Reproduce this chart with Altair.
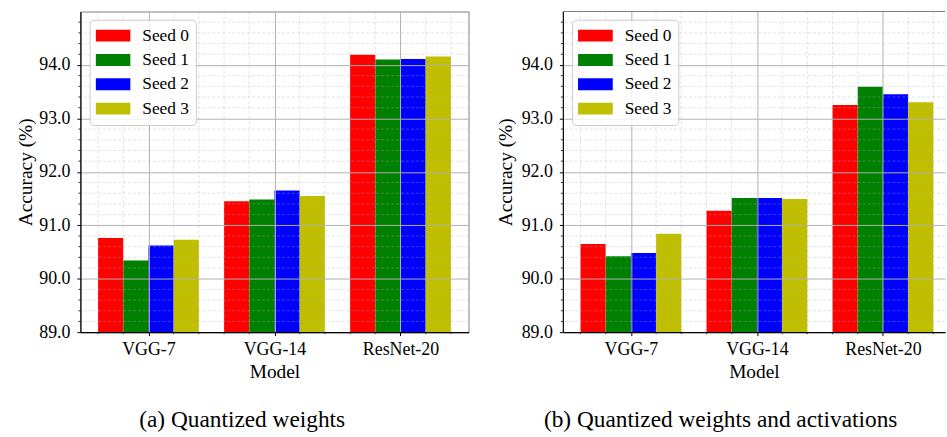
import altair as alt
import numpy as np
import pandas as pd

# ---------------- data ----------------
models = ["VGG-7", "VGG-14", "ResNet-20"]
seeds = ["Seed 0", "Seed 1", "Seed 2", "Seed 3"]
colors = ["#ff0000", "#008000", "#0000ff", "#bfbf00"]

# (a) quantized weights
acc_w_seed0 = [90.76, 91.45, 94.19]
acc_w_seed1 = [90.34, 91.48, 94.10]
acc_w_seed2 = [90.62, 91.65, 94.11]
acc_w_seed3 = [90.73, 91.55, 94.16]

# (b) quantized weights and activations
acc_wa_seed0 = [90.65, 91.27, 93.25]
acc_wa_seed1 = [90.42, 91.51, 93.59]
acc_wa_seed2 = [90.48, 91.51, 93.45]
acc_wa_seed3 = [90.84, 91.49, 93.30]

y_tick_values = [89, 90, 91, 92, 93, 94]
x_tick_values = [0, 1, 2]
captions = ["(a) Quantized weights", "(b) Quantized weights and activations"]

FONT = "Liberation Serif"
H = 323
BAR_W = 0.2
X_MIN = -0.54
PX_PER_UNIT = 391 / 3.08


def bars_frame(acc):
    rows = []
    for s_i, seed in enumerate(seeds):
        for m_i, model in enumerate(models):
            center = m_i + (s_i - 1.5) * BAR_W
            rows.append(dict(model=model, seed=seed, acc=acc[s_i][m_i],
                             x0=center - BAR_W / 2, x1=center + BAR_W / 2))
    return pd.DataFrame(rows)


label_expr = "[" + ",".join("'%s'" % m for m in models) + "][datum.value]"


def panel(acc, caption, width, title_x, view_stroke, top_rule):
    x_max = X_MIN + width / PX_PER_UNIT
    xs = alt.Scale(domain=[X_MIN, x_max], nice=False, zero=False)
    ys = alt.Scale(domain=[89, 95], nice=False, zero=False)

    x_axis = alt.Axis(values=x_tick_values, labelExpr=label_expr,
                      title="Model", grid=True, gridColor="#b0b0b0",
                      gridWidth=1, tickSize=3.5, tickColor="black",
                      domainColor="black", domainWidth=1.2,
                      labelFont=FONT, labelFontSize=18, labelColor="black",
                      labelAngle=0, labelPadding=5, labelFlush=False,
                      labelOverlap=False, orient="bottom",
                      titleFont=FONT, titleFontSize=19.5,
                      titleFontWeight="normal", titleColor="black",
                      titlePadding=4, zindex=1)
    y_axis = alt.Axis(values=y_tick_values, format=".1f",
                      title="Accuracy (%)", grid=True, gridColor="#b0b0b0",
                      gridWidth=1, tickSize=3.5, tickColor="black",
                      domainColor="black", domainWidth=1.2,
                      labelFont=FONT, labelFontSize=18, labelColor="black",
                      labelPadding=7, labelFlush=False, orient="left",
                      titleFont=FONT, titleFontSize=19.5,
                      titleFontWeight="normal", titleColor="black",
                      titleX=title_x, titleY=H / 2, titleBaseline="middle",
                      titleAngle=270, zindex=1)

    x_minor = [round(v, 1) for v in np.arange(-0.4, x_max, 0.2)
               if abs(v - round(v)) > 1e-6]
    y_minor = [round(v, 1) for v in np.arange(89.2, 95.0, 0.2)
               if abs(v - round(v)) > 1e-6]

    bars = alt.Chart(bars_frame(acc)).mark_bar(strokeWidth=0).encode(
        x=alt.X("x0:Q", scale=xs, axis=x_axis),
        x2="x1:Q",
        y=alt.Y("acc:Q", scale=ys, axis=y_axis),
        y2=alt.datum(89),
        color=alt.Color("seed:N", scale=alt.Scale(domain=seeds, range=colors),
                        legend=alt.Legend(
                            title=None, orient="none", legendX=9.3, legendY=8.3,
                            fillColor="rgba(255,255,255,0.8)",
                            strokeColor="#cccccc", cornerRadius=4, padding=6,
                            symbolType="M-1,-0.343L1,-0.343L1,0.343L-1,0.343Z",
                            symbolSize=1225, symbolStrokeWidth=0,
                            clipHeight=20, rowPadding=4.5,
                            labelFont=FONT, labelFontSize=17.5, labelColor="black",
                            labelOffset=12, zindex=2)),
    )

    vgrid = alt.Chart(pd.DataFrame({"v": x_minor})).mark_rule(
        color="#b0b0b0", opacity=0.45, strokeDash=[3, 2], strokeWidth=0.8
    ).encode(x=alt.X("v:Q", scale=xs, axis=None))
    hgrid = alt.Chart(pd.DataFrame({"v": y_minor})).mark_rule(
        color="#b0b0b0", opacity=0.45, strokeDash=[3, 2], strokeWidth=0.8
    ).encode(y=alt.Y("v:Q", scale=ys, axis=None))

    xminor_ticks = alt.Chart(pd.DataFrame({"v": x_minor})).mark_rule(
        color="black", strokeWidth=0.8
    ).encode(x=alt.X("v:Q", scale=xs, axis=None),
             y=alt.value(H), y2=alt.value(H + 2))
    yminor_ticks = alt.Chart(pd.DataFrame({"v": y_minor})).mark_rule(
        color="black", strokeWidth=0.8
    ).encode(y=alt.Y("v:Q", scale=ys, axis=None),
             x=alt.value(-2), x2=alt.value(0))

    layers = [bars, vgrid, hgrid, xminor_ticks, yminor_ticks]
    if top_rule:
        top = alt.Chart(pd.DataFrame({"v": [95]})).mark_rule(
            color="#808080", strokeWidth=1.2
        ).encode(y=alt.Y("v:Q", scale=ys, axis=None))
        layers.append(top)

    return alt.layer(*layers).resolve_axis(
        x="independent", y="independent"
    ).properties(
        width=width, height=H,
        view=alt.ViewBackground(stroke=view_stroke),
        title=alt.TitleParams(caption, orient="bottom", anchor="middle",
                              frame="bounds", font=FONT, fontSize=23.5,
                              fontWeight="normal", color="black", offset=28),
    )


left = panel([acc_w_seed0, acc_w_seed1, acc_w_seed2, acc_w_seed3],
             captions[0], 391, -55.5, "#808080", False)
right = panel([acc_wa_seed0, acc_wa_seed1, acc_wa_seed2, acc_wa_seed3],
              captions[1], 385, -57.7, "transparent", True)

chart = alt.hconcat(left, right, spacing=25).resolve_scale(
    color="independent"
).properties(
    padding={"left": 15, "top": 8, "right": 0, "bottom": 0},
    background="white",
).configure(
    font=FONT,
).configure_axis(
    labelFont=FONT, titleFont=FONT,
)

chart.save("out.html", embed_options={"renderer": "svg", "actions": False})
